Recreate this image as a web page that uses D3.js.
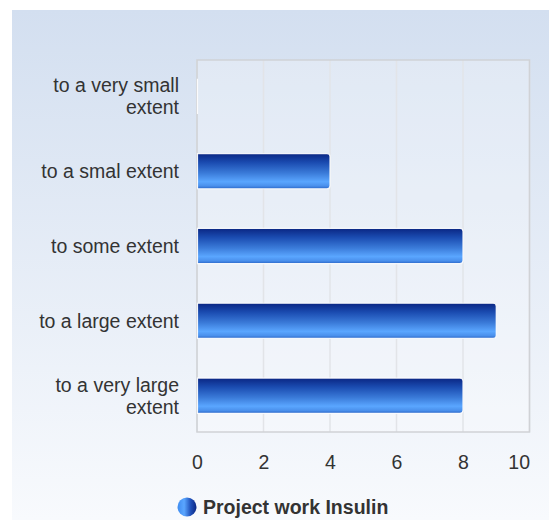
<!DOCTYPE html>
<html>
<head>
<meta charset="utf-8">
<script src="https://cdn.jsdelivr.net/npm/d3@7"></script>
<style>
  html, body { margin: 0; padding: 0; background: #ffffff; }
  svg { display: block; }
  text { font-family: Arial, "Liberation Sans", sans-serif; }
</style>
</head>
<body>
<svg id="chart" width="549" height="520"></svg>
<script>
// Survey answers and the number of responses for each
const categories = [
  "to a very small extent",
  "to a smal extent",
  "to some extent",
  "to a large extent",
  "to a very large extent"
];
const categoryLines = [
  ["to a very small", "extent"],
  ["to a smal extent"],
  ["to some extent"],
  ["to a large extent"],
  ["to a very large", "extent"]
];
const values = [0, 4, 8, 9, 8];
const xTicks = [0, 2, 4, 6, 8, 10];
const seriesName = "Project work Insulin";

const W = 549, H = 520;
const margin = { left: 197, right: 19.5, top: 60, bottom: 88 };
const plotW = W - margin.left - margin.right;
const plotH = H - margin.top - margin.bottom;
const FONT = 19.5;

const svg = d3.select("#chart");
const defs = svg.append("defs");

// Panel background: pale blue fading to near white
const bgGrad = defs.append("linearGradient")
  .attr("id", "bgGrad").attr("x1", 0).attr("y1", 0).attr("x2", 0).attr("y2", 1);
bgGrad.append("stop").attr("offset", "0%").attr("stop-color", "#d3dff0");
bgGrad.append("stop").attr("offset", "100%").attr("stop-color", "#f8fafd");

// Bar fill: dark navy on top, bright blue band near the bottom
const barGrad = defs.append("linearGradient")
  .attr("id", "barGrad").attr("x1", 0).attr("y1", 0).attr("x2", 0).attr("y2", 1);
[["0%", "#0a2683"], ["25%", "#1a4bb0"], ["55%", "#3a7ad8"], ["80%", "#5aa6ff"], ["92%", "#4a90ec"], ["100%", "#2a66c8"]]
  .forEach(([o, c]) => barGrad.append("stop").attr("offset", o).attr("stop-color", c));

// Legend marker: sphere-like horizontal shading
const legGrad = defs.append("linearGradient")
  .attr("id", "legGrad").attr("x1", 0).attr("y1", 0).attr("x2", 1).attr("y2", 0);
[["0%", "#3f8cf0"], ["35%", "#5aa6ff"], ["70%", "#1f4fb8"], ["100%", "#0a2683"]]
  .forEach(([o, c]) => legGrad.append("stop").attr("offset", o).attr("stop-color", c));

svg.append("rect")
  .attr("x", 12).attr("y", 10)
  .attr("width", W - 12).attr("height", H - 10)
  .attr("fill", "url(#bgGrad)");

const g = svg.append("g").attr("transform", `translate(${margin.left},${margin.top})`);

// Plot area tint
g.append("rect")
  .attr("width", plotW).attr("height", plotH)
  .attr("fill", "#ffffff").attr("fill-opacity", 0.25);

const x = d3.scaleLinear().domain([0, 10]).range([0, plotW]);
const y = d3.scaleBand().domain(categories).range([0, plotH]).paddingInner(0.53).paddingOuter(0.25);

// Vertical grid lines
g.append("g").selectAll("line")
  .data(xTicks)
  .join("line")
  .attr("x1", d => x(d)).attr("x2", d => x(d))
  .attr("y1", 0).attr("y2", plotH)
  .attr("stroke", "#e2e4e8").attr("stroke-width", 1.5);

// Plot frame
g.append("rect")
  .attr("x", 0).attr("y", 0).attr("width", plotW).attr("height", plotH)
  .attr("fill", "none").attr("stroke", "#d0d2d6").attr("stroke-width", 1.5);

// Bars
const barH = y.bandwidth();
const r = 3;
g.append("g").selectAll("path")
  .data(categories.map((c, i) => ({ c, v: values[i] })))
  .join("path")
  .attr("d", d => {
    const x0 = x(0) + 0.5, x1 = x(d.v), y0 = y(d.c), y1 = y0 + barH;
    if (x1 - x0 < 2 * r) {
      return `M${x0},${y0}L${Math.max(x1, x0)},${y0}L${Math.max(x1, x0)},${y1}L${x0},${y1}Z`;
    }
    return `M${x0},${y0}L${x1 - r},${y0}Q${x1},${y0} ${x1},${y0 + r}` +
      `L${x1},${y1 - r}Q${x1},${y1} ${x1 - r},${y1}L${x0},${y1}Z`;
  })
  .attr("fill", "url(#barGrad)")
  .attr("stroke", "#ffffff").attr("stroke-width", 1.2).attr("stroke-opacity", 0.9);

// X axis labels; the last one is kept inside the plot's right edge
const xAxis = g.append("g")
  .attr("transform", `translate(0,${plotH})`)
  .call(d3.axisBottom(x).tickValues(xTicks).tickSize(0).tickPadding(23).tickFormat(d3.format("d")));
xAxis.select(".domain").remove();
xAxis.selectAll("text")
  .attr("font-size", FONT).attr("fill", "#333333")
  .attr("font-family", "Arial, 'Liberation Sans', sans-serif")
  .attr("text-anchor", d => d === xTicks[xTicks.length - 1] ? "end" : "middle");

// Category labels (wrapped, right aligned)
const yAxis = g.append("g")
  .call(d3.axisLeft(y).tickSize(0).tickPadding(18).tickFormat(""));
yAxis.select(".domain").remove();
yAxis.selectAll(".tick").each(function (d, i) {
  const lines = categoryLines[i];
  const t = d3.select(this).append("text")
    .attr("x", -18).attr("text-anchor", "end")
    .attr("font-size", FONT).attr("fill", "#333333")
    .attr("font-family", "Arial, 'Liberation Sans', sans-serif");
  const lh = 22;
  lines.forEach((ln, k) => {
    t.append("tspan")
      .attr("x", -18)
      .attr("y", (k - (lines.length - 1) / 2) * lh)
      .attr("dy", "0.35em")
      .text(ln);
  });
});

// Legend
const legend = svg.append("g").attr("transform", "translate(187,507)");
legend.append("circle")
  .attr("r", 9.5).attr("cx", 0).attr("cy", 0)
  .attr("fill", "url(#legGrad)");
legend.append("text")
  .attr("x", 16).attr("y", 0).attr("dy", "0.35em")
  .attr("font-size", FONT).attr("font-weight", "bold").attr("fill", "#333333")
  .text(seriesName);
</script>
</body>
</html>
